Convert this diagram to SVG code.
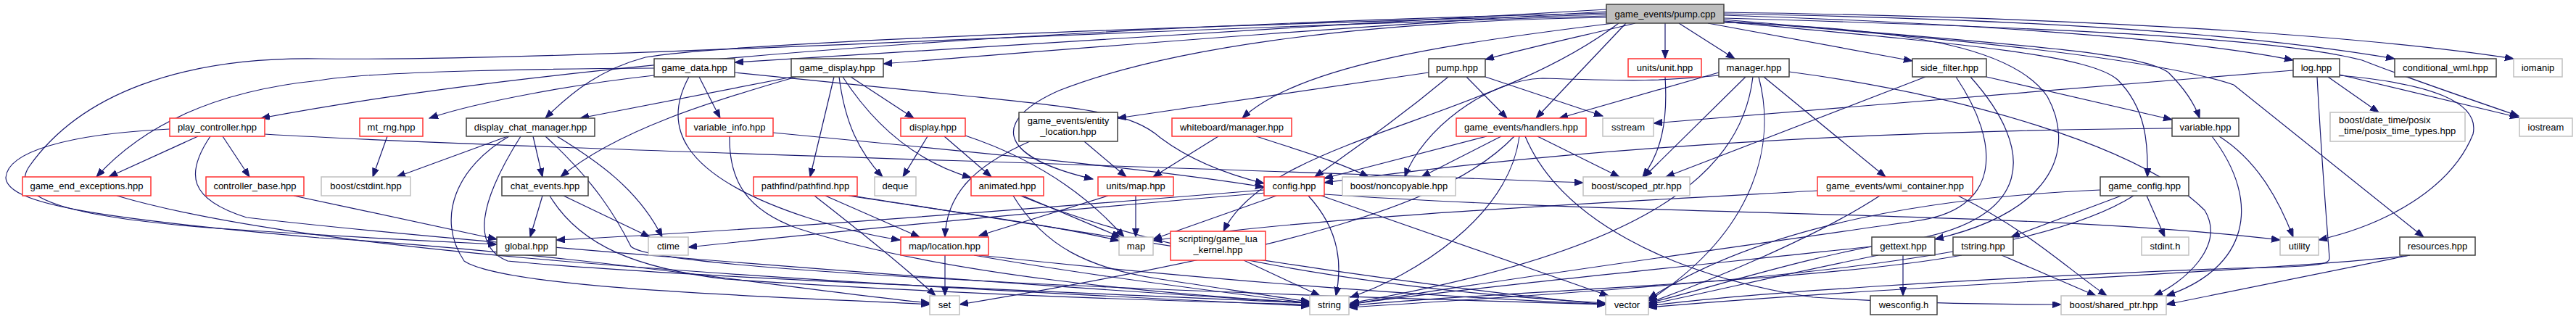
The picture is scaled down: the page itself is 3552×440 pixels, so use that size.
<svg xmlns="http://www.w3.org/2000/svg" width="3552" height="440" viewBox="0 0 3552 440">
<style>
.e{fill:none;stroke:#191970;stroke-width:1.2;marker-end:url(#a)}
.node rect{fill:#ffffff;stroke-width:1.5}
.b rect{stroke:#404040}
.r rect{stroke:#ff3030}
.g rect{stroke:#c0c0c0}
.p rect{fill:#bfbfbf;stroke:#404040}
text{font-family:"Liberation Sans",Arial,sans-serif;font-size:13px;fill:#000000;text-anchor:middle}
</style>
<defs>
<marker id="a" markerWidth="13" markerHeight="10" refX="12" refY="4.5" orient="auto" markerUnits="userSpaceOnUse">
<path d="M0,0 L12,4.5 L0,9 z" fill="#191970" stroke="#191970" stroke-width="1"/>
</marker>
</defs>
<rect width="3552" height="440" fill="#ffffff"/>
<g id="edges">
<path class="e" d="M2215,13 C1800,35 1300,70 1013,86"/>
<path class="e" d="M2215,16 C1800,40 1450,70 1218,88"/>
<path class="e" d="M2255,32 C2180,50 2110,65 2048,82"/>
<path class="e" d="M2296,32 L2296,81"/>
<path class="e" d="M2315,32 L2392,81"/>
<path class="e" d="M2355,32 L2637,84"/>
<path class="e" d="M2377,21 C2800,35 3050,60 3162,83"/>
<path class="e" d="M2377,19 C2900,28 3150,55 3302,81"/>
<path class="e" d="M2377,17 C2950,25 3300,55 3466,81"/>
<path class="e" d="M2215,18 C1500,35 800,80 360,163"/>
<path class="e" d="M2215,20 C1500,40 1000,60 890,79 C830,95 790,125 752,163"/>
<path class="e" d="M2225,32 C2000,60 1790,90 1713,163"/>
<path class="e" d="M2242,32 L2118,163"/>
<path class="e" d="M2215,24 C1850,30 1600,70 1460,125 C1370,165 1370,215 1507,247"/>
<path class="e" d="M2232,32 C2050,170 1750,190 1687,319"/>
<path class="e" d="M2377,27 C2750,60 2950,70 2990,100 C3010,120 3025,140 3033,163"/>
<path class="e" d="M2377,30 C2700,60 2880,75 2920,110 C2960,150 2962,200 2961,244"/>
<path class="e" d="M2377,29 C2800,60 3000,90 3080,117 L3342,327"/>
<path class="e" d="M2377,25 C2900,40 3150,55 3257,83 C3300,100 3400,135 3473,160"/>
<path class="e" d="M2215,22 C1400,45 800,85 440,81 C250,78 110,130 40,230 C10,275 100,300 300,315 C450,325 580,332 685,337"/>
<path class="e" d="M2377,31 C2650,40 2780,70 2823,133 C2860,200 2840,290 2668,330"/>
<path class="e" d="M902,104 C800,115 660,140 592,163"/>
<path class="e" d="M902,94 C700,95 500,100 440,111 C300,125 200,170 133,244"/>
<path class="e" d="M964,106 L993,163"/>
<path class="e" d="M950,106 C915,170 930,240 1113,300 C1160,315 1200,325 1241,331"/>
<path class="e" d="M1013,100 L1330,132 C1500,150 1560,155 1600,190 C1640,220 1690,240 1743,253"/>
<path class="e" d="M1093,106 L800,163"/>
<path class="e" d="M1098,106 C980,140 850,180 773,244"/>
<path class="e" d="M1150,106 L1117,244"/>
<path class="e" d="M1157,106 C1165,170 1185,210 1217,244"/>
<path class="e" d="M1173,106 L1260,163"/>
<path class="e" d="M1162,106 C1210,180 1270,225 1339,245"/>
<path class="e" d="M273,188 L150,244"/>
<path class="e" d="M307,188 L344,244"/>
<path class="e" d="M365,185 C700,205 1500,225 2183,252"/>
<path class="e" d="M234,178 C90,185 10,210 8,245 C10,280 120,300 440,328 C800,350 1100,400 1282,418"/>
<path class="e" d="M290,188 C255,240 260,275 340,300 C600,330 1200,380 1806,418"/>
<path class="e" d="M534,188 L514,244"/>
<path class="e" d="M700,188 L547,244"/>
<path class="e" d="M735,188 L748,244"/>
<path class="e" d="M768,188 C820,220 880,260 913,327"/>
<path class="e" d="M702,188 C630,230 600,300 640,360 C700,400 1100,410 1282,420"/>
<path class="e" d="M718,188 C660,280 650,340 700,360 C900,380 1400,400 1806,418"/>
<path class="e" d="M752,188 C820,250 850,300 870,340 C900,370 1500,400 2214,420"/>
<path class="e" d="M748,270 L731,327"/>
<path class="e" d="M777,270 L896,327"/>
<path class="e" d="M758,270 C800,340 880,370 1000,385 C1300,405 1600,415 1806,420"/>
<path class="e" d="M405,270 C500,290 600,312 685,330"/>
<path class="e" d="M161,270 C400,340 900,380 1806,422"/>
<path class="e" d="M1066,183 C1400,215 1600,235 1743,258"/>
<path class="e" d="M1006,188 C1005,250 1030,290 1100,315 C1300,380 1600,405 1806,418"/>
<path class="e" d="M1279,188 L1245,244"/>
<path class="e" d="M1302,188 L1367,244"/>
<path class="e" d="M1331,187 C1430,220 1500,270 1550,327"/>
<path class="e" d="M1420,195 C1340,230 1305,270 1303,327"/>
<path class="e" d="M1495,195 L1553,244"/>
<path class="e" d="M1680,188 L1590,244"/>
<path class="e" d="M1732,188 C1800,210 1850,225 1887,244"/>
<path class="e" d="M1410,270 L1545,327"/>
<path class="e" d="M1397,270 C1440,340 1500,370 1600,385 C1700,400 1760,410 1806,416"/>
<path class="e" d="M1407,270 C1600,350 1900,400 2214,418"/>
<path class="e" d="M1566,270 L1566,327"/>
<path class="e" d="M1528,270 L1350,325"/>
<path class="e" d="M1760,270 L1590,330"/>
<path class="e" d="M1743,262 C1400,290 1000,320 767,331"/>
<path class="e" d="M1745,266 C1400,295 1100,325 949,341"/>
<path class="e" d="M1804,270 C1850,320 1850,370 1842,408"/>
<path class="e" d="M1822,270 L2218,408"/>
<path class="e" d="M1826,268 C2300,300 2800,290 3144,331"/>
<path class="e" d="M1715,359 L1820,408"/>
<path class="e" d="M1138,270 L1268,327"/>
<path class="e" d="M1123,270 C1200,330 1260,380 1290,408"/>
<path class="e" d="M1170,270 C1300,290 1450,310 1543,332"/>
<path class="e" d="M1175,270 C1500,320 1900,390 2214,420"/>
<path class="e" d="M1303,352 L1303,408"/>
<path class="e" d="M1343,352 C1500,380 1700,405 1806,418"/>
<path class="e" d="M1350,352 C1700,390 2000,410 2214,420"/>
<path class="e" d="M2050,188 L1826,246"/>
<path class="e" d="M2070,188 L1960,244"/>
<path class="e" d="M2120,188 L2233,244"/>
<path class="e" d="M2095,188 C2080,300 1950,380 1862,410"/>
<path class="e" d="M2088,188 C2000,280 1800,340 1323,420"/>
<path class="e" d="M2103,188 C2150,300 2300,380 2500,410 C2650,420 2780,420 2842,420"/>
<path class="e" d="M2370,100 C2300,120 2230,140 2150,163"/>
<path class="e" d="M2370,104 C2300,112 2250,112 2127,108 C2050,110 1960,180 1937,244"/>
<path class="e" d="M2407,106 L2267,244"/>
<path class="e" d="M2417,106 C2400,250 2250,350 1862,418"/>
<path class="e" d="M2425,106 C2450,200 2420,320 2273,415"/>
<path class="e" d="M2432,106 L2600,244"/>
<path class="e" d="M2467,99 C2700,130 2950,200 3040,290 C3070,340 3010,390 2970,408"/>
<path class="e" d="M2655,106 L2297,244"/>
<path class="e" d="M2739,106 L2995,165"/>
<path class="e" d="M2697,106 C2760,200 2760,290 2640,305 C2400,340 2000,395 1862,420"/>
<path class="e" d="M2717,106 C2810,210 2800,300 2640,330 C2500,350 2350,400 2273,418"/>
<path class="e" d="M2296,106 C2300,170 2290,210 2265,244"/>
<path class="e" d="M2592,270 C2500,330 2350,390 2273,418"/>
<path class="e" d="M2506,263 C2200,280 1800,300 1590,332"/>
<path class="e" d="M2700,270 C2800,320 2850,370 2905,408"/>
<path class="e" d="M2624,352 L2624,408"/>
<path class="e" d="M2581,340 C2300,370 2000,400 1860,420"/>
<path class="e" d="M2590,352 C2450,380 2350,405 2273,420"/>
<path class="e" d="M2760,352 L2890,408"/>
<path class="e" d="M2705,352 C2500,390 2000,405 1860,422"/>
<path class="e" d="M2925,270 L2773,327"/>
<path class="e" d="M2960,270 L2985,327"/>
<path class="e" d="M2896,262 C2600,275 2400,330 2273,412"/>
<path class="e" d="M2942,270 C2800,360 2400,390 1860,424"/>
<path class="e" d="M2995,177 C2600,180 2200,200 1826,252"/>
<path class="e" d="M3050,188 C3120,280 3100,370 2987,408"/>
<path class="e" d="M3060,188 C3110,220 3140,270 3162,327"/>
<path class="e" d="M3162,97 L2280,170"/>
<path class="e" d="M3210,106 L3280,155"/>
<path class="e" d="M3226,103 L3473,162"/>
<path class="e" d="M3226,104 C3350,115 3420,140 3410,185 C3380,260 3290,310 3197,331"/>
<path class="e" d="M3195,106 C3200,200 3210,330 3212,355 C3213,365 3200,368 3080,370 C2700,385 2400,405 2273,422"/>
<path class="e" d="M3323,352 L2987,420"/>
<path class="e" d="M3323,352 C3200,370 2600,395 2273,424"/>
<path class="e" d="M1970,100 L1541,163"/>
<path class="e" d="M1997,106 C1920,170 1860,210 1813,244"/>
<path class="e" d="M2022,106 L2078,163"/>
<path class="e" d="M2048,106 L2210,160"/>
</g>
<g id="n_pump_cpp" class="node p"><rect x="2215" y="6" width="162" height="26"/><text x="2296" y="23.5">game_events/pump.cpp</text></g>
<g id="n_game_data" class="node b"><rect x="902" y="81" width="111" height="25"/><text x="957.5" y="98">game_data.hpp</text></g>
<g id="n_game_display" class="node b"><rect x="1091" y="81" width="127" height="25"/><text x="1154.5" y="98">game_display.hpp</text></g>
<g id="n_pump_hpp" class="node b"><rect x="1970" y="81" width="78" height="25"/><text x="2009" y="98">pump.hpp</text></g>
<g id="n_unit" class="node r"><rect x="2245" y="81" width="101" height="25"/><text x="2295.5" y="98">units/unit.hpp</text></g>
<g id="n_manager" class="node b"><rect x="2370" y="81" width="97" height="25"/><text x="2418.5" y="98">manager.hpp</text></g>
<g id="n_side_filter" class="node b"><rect x="2637" y="81" width="102" height="25"/><text x="2688" y="98">side_filter.hpp</text></g>
<g id="n_log" class="node b"><rect x="3162" y="81" width="64" height="25"/><text x="3194" y="98">log.hpp</text></g>
<g id="n_conditional_wml" class="node b"><rect x="3302" y="81" width="140" height="25"/><text x="3372" y="98">conditional_wml.hpp</text></g>
<g id="n_iomanip" class="node g"><rect x="3466" y="81" width="67" height="25"/><text x="3499.5" y="98">iomanip</text></g>
<g id="n_play_controller" class="node r"><rect x="234" y="163" width="131" height="25"/><text x="299.5" y="180">play_controller.hpp</text></g>
<g id="n_mt_rng" class="node r"><rect x="496" y="163" width="87" height="25"/><text x="539.5" y="180">mt_rng.hpp</text></g>
<g id="n_display_chat_manager" class="node b"><rect x="643" y="163" width="177" height="25"/><text x="731.5" y="180">display_chat_manager.hpp</text></g>
<g id="n_variable_info" class="node r"><rect x="946" y="163" width="120" height="25"/><text x="1006" y="180">variable_info.hpp</text></g>
<g id="n_display" class="node r"><rect x="1242" y="163" width="89" height="25"/><text x="1286.5" y="180">display.hpp</text></g>
<g id="n_entity_location" class="node b"><rect x="1405" y="155" width="136" height="40"/><text x="1473" y="171">game_events/entity</text><text x="1473" y="186">_location.hpp</text></g>
<g id="n_wb_manager" class="node r"><rect x="1616" y="163" width="165" height="25"/><text x="1698.5" y="180">whiteboard/manager.hpp</text></g>
<g id="n_handlers" class="node r"><rect x="2008" y="163" width="179" height="25"/><text x="2097.5" y="180">game_events/handlers.hpp</text></g>
<g id="n_sstream" class="node g"><rect x="2210" y="163" width="70" height="25"/><text x="2245" y="180">sstream</text></g>
<g id="n_variable" class="node b"><rect x="2995" y="163" width="92" height="25"/><text x="3041" y="180">variable.hpp</text></g>
<g id="n_posix_time" class="node g"><rect x="3213" y="155" width="186" height="40"/><text x="3225" y="170" style="text-anchor:start">boost/date_time/posix</text><text x="3225" y="185" style="text-anchor:start">_time/posix_time_types.hpp</text></g>
<g id="n_iostream" class="node g"><rect x="3474" y="163" width="73" height="25"/><text x="3510.5" y="180">iostream</text></g>
<g id="n_game_end_exceptions" class="node r"><rect x="31" y="244" width="177" height="26"/><text x="119.5" y="261">game_end_exceptions.hpp</text></g>
<g id="n_controller_base" class="node r"><rect x="284" y="244" width="135" height="26"/><text x="351.5" y="261">controller_base.hpp</text></g>
<g id="n_cstdint" class="node g"><rect x="443" y="244" width="123" height="26"/><text x="504.5" y="261">boost/cstdint.hpp</text></g>
<g id="n_chat_events" class="node b"><rect x="692" y="244" width="119" height="26"/><text x="751.5" y="261">chat_events.hpp</text></g>
<g id="n_pathfind" class="node r"><rect x="1039" y="244" width="143" height="26"/><text x="1110.5" y="261">pathfind/pathfind.hpp</text></g>
<g id="n_deque" class="node g"><rect x="1206" y="244" width="57" height="26"/><text x="1234.5" y="261">deque</text></g>
<g id="n_animated" class="node r"><rect x="1339" y="244" width="100" height="26"/><text x="1389" y="261">animated.hpp</text></g>
<g id="n_units_map" class="node r"><rect x="1514" y="244" width="104" height="26"/><text x="1566" y="261">units/map.hpp</text></g>
<g id="n_config" class="node r"><rect x="1743" y="244" width="83" height="26"/><text x="1784.5" y="261">config.hpp</text></g>
<g id="n_noncopyable" class="node g"><rect x="1851" y="244" width="156" height="26"/><text x="1929" y="261">boost/noncopyable.hpp</text></g>
<g id="n_scoped_ptr" class="node g"><rect x="2183" y="244" width="147" height="26"/><text x="2256.5" y="261">boost/scoped_ptr.hpp</text></g>
<g id="n_wmi_container" class="node r"><rect x="2506" y="244" width="214" height="26"/><text x="2613" y="261">game_events/wmi_container.hpp</text></g>
<g id="n_game_config" class="node b"><rect x="2896" y="244" width="122" height="26"/><text x="2957" y="261">game_config.hpp</text></g>
<g id="n_global" class="node b"><rect x="685" y="327" width="82" height="25"/><text x="726" y="344">global.hpp</text></g>
<g id="n_ctime" class="node g"><rect x="894" y="327" width="55" height="25"/><text x="921.5" y="344">ctime</text></g>
<g id="n_location" class="node r"><rect x="1242" y="327" width="121" height="25"/><text x="1302.5" y="344">map/location.hpp</text></g>
<g id="n_map" class="node g"><rect x="1543" y="327" width="47" height="25"/><text x="1566.5" y="344">map</text></g>
<g id="n_game_lua_kernel" class="node r"><rect x="1614" y="319" width="131" height="40"/><text x="1679.5" y="334">scripting/game_lua</text><text x="1679.5" y="349">_kernel.hpp</text></g>
<g id="n_gettext" class="node b"><rect x="2581" y="327" width="87" height="25"/><text x="2624.5" y="344">gettext.hpp</text></g>
<g id="n_tstring" class="node b"><rect x="2693" y="327" width="83" height="25"/><text x="2734.5" y="344">tstring.hpp</text></g>
<g id="n_stdint" class="node g"><rect x="2953" y="327" width="65" height="25"/><text x="2985.5" y="344">stdint.h</text></g>
<g id="n_utility" class="node g"><rect x="3144" y="327" width="53" height="25"/><text x="3170.5" y="344">utility</text></g>
<g id="n_resources" class="node b"><rect x="3309" y="327" width="104" height="25"/><text x="3361" y="344">resources.hpp</text></g>
<g id="n_set" class="node g"><rect x="1282" y="408" width="41" height="26"/><text x="1302.5" y="425">set</text></g>
<g id="n_string" class="node g"><rect x="1806" y="408" width="54" height="26"/><text x="1833" y="425">string</text></g>
<g id="n_vector" class="node g"><rect x="2214" y="408" width="59" height="26"/><text x="2243.5" y="425">vector</text></g>
<g id="n_wesconfig" class="node b"><rect x="2579" y="408" width="92" height="26"/><text x="2625" y="425">wesconfig.h</text></g>
<g id="n_shared_ptr" class="node g"><rect x="2842" y="408" width="145" height="26"/><text x="2914.5" y="425">boost/shared_ptr.hpp</text></g>
</svg>
